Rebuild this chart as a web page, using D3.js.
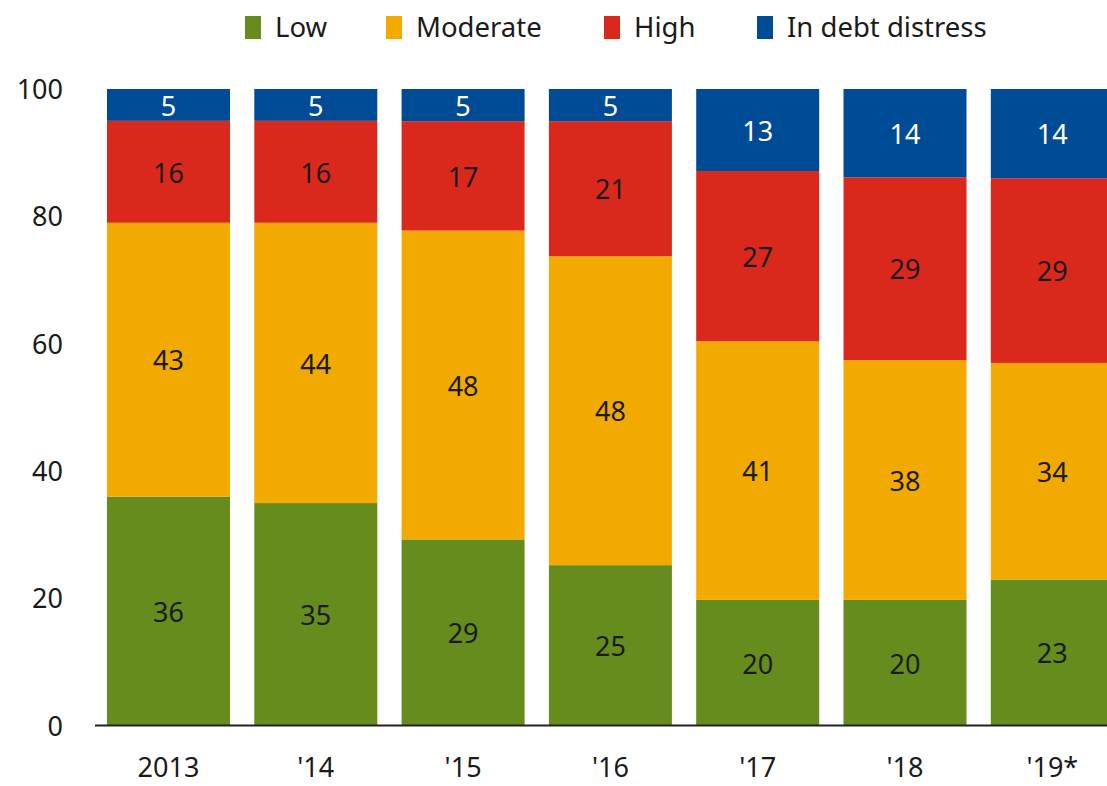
<!DOCTYPE html>
<html>
<head>
<meta charset="utf-8">
<script src="https://cdn.jsdelivr.net/npm/d3@7"></script>
<style>
  body { margin: 0; background: #fff; }
  svg text { font-family: "Noto Sans", "Open Sans", sans-serif; fill: #1a1a1a; }
</style>
</head>
<body>
<svg width="1107" height="786"></svg>
<script>
// categories and series (share of countries, %)
var years = ["2013", "'14", "'15", "'16", "'17", "'18", "'19*"];
var low = [36, 35, 29, 25, 20, 20, 23];
var moderate = [43, 44, 48, 48, 41, 38, 34];
var high = [16, 16, 17, 21, 27, 29, 29];
var distress = [5, 5, 5, 5, 13, 14, 14];
var seriesNames = ["Low", "Moderate", "High", "In debt distress"];
var seriesColors = ["#668c1e", "#f2aa00", "#da291c", "#004b96"];
var yTicks = [0, 20, 40, 60, 80, 100];

var svg = d3.select("svg");

var x = d3.scaleBand()
  .domain(years)
  .range([95.2, 1125.6])
  .paddingInner(0.165)
  .paddingOuter(0.08);

var y = d3.scaleLinear().domain([0, 100]).range([726, 89]);

// build rows, normalised so each bar reaches 100
var rows = years.map(function(yr, i) {
  var vals = [low[i], moderate[i], high[i], distress[i]];
  var total = d3.sum(vals);
  var r = { year: yr };
  seriesNames.forEach(function(s, j) { r[s] = vals[j] * 100 / total; r[s + "_raw"] = vals[j]; });
  return r;
});

var stack = d3.stack().keys(seriesNames);
var layers = stack(rows);

var g = svg.append("g");

layers.forEach(function(layer, j) {
  var lg = g.append("g");
  lg.selectAll("rect")
    .data(layer)
    .enter().append("rect")
    .attr("x", function(d) { return x(d.data.year); })
    .attr("width", x.bandwidth())
    .attr("y", function(d) { return y(d[1]); })
    .attr("height", function(d) { return y(d[0]) - y(d[1]); })
    .attr("fill", seriesColors[j]);

  lg.selectAll("text")
    .data(layer)
    .enter().append("text")
    .attr("x", function(d) { return x(d.data.year) + x.bandwidth() / 2; })
    .attr("y", function(d) { return (y(d[0]) + y(d[1])) / 2 + 1; })
    .attr("dy", "0.36em")
    .attr("text-anchor", "middle")
    .style("font-size", "27px")
    .style("fill", j == 3 ? "#fff" : "#1a1a1a")
    .text(function(d) { return d.data[layer.key + "_raw"]; });
});

// y axis labels (no axis line)
svg.append("g").selectAll("text")
  .data(yTicks)
  .enter().append("text")
  .attr("x", 63)
  .attr("y", function(d) { return y(d); })
  .attr("dy", "0.36em")
  .attr("text-anchor", "end")
  .style("font-size", "27px")
  .text(function(d) { return d; });

// baseline
svg.append("line")
  .attr("x1", 95).attr("x2", 1107)
  .attr("y1", 725.5).attr("y2", 725.5)
  .attr("stroke", "#222").attr("stroke-width", 2);

// x labels
svg.append("g").selectAll("text")
  .data(years)
  .enter().append("text")
  .attr("x", function(d) { return x(d) + x.bandwidth() / 2; })
  .attr("y", 767)
  .attr("dy", "0.36em")
  .attr("text-anchor", "middle")
  .style("font-size", "27px")
  .text(function(d) { return d; });

// legend
var legendX = [245, 386, 604, 757];
var legend = svg.append("g").selectAll("g")
  .data(seriesNames)
  .enter().append("g")
  .attr("transform", function(d, i) { return "translate(" + legendX[i] + ",0)"; });
legend.append("rect")
  .attr("x", 0).attr("y", 16)
  .attr("width", 16).attr("height", 23)
  .attr("fill", function(d, i) { return seriesColors[i]; });
legend.append("text")
  .attr("x", 30).attr("y", 27)
  .attr("dy", "0.36em")
  .style("font-size", "27.5px")
  .text(function(d) { return d; });
</script>
</body>
</html>
